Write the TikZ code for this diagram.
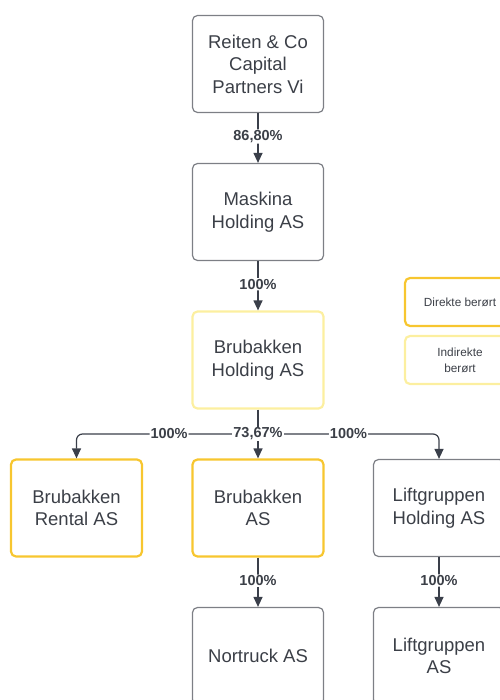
\documentclass[tikz,border=0pt]{standalone}
\usepackage{fontspec}
\setmainfont{Liberation Sans}
\usetikzlibrary{arrows.meta}
\definecolor{txt}{HTML}{3B3F47}
\definecolor{grayb}{HTML}{7D7F85}
\definecolor{gold}{HTML}{F7C62F}
\definecolor{lightgold}{HTML}{FCEFA0}
\definecolor{arr}{HTML}{3A3F4A}
\tikzset{
  x=1pt,y=-1pt,
  box/.style={draw=grayb,line width=1.2pt,rounded corners=5pt,minimum width=131pt,minimum height=97pt,align=center,font=\fontsize{18.5}{22.5}\selectfont,text=txt,inner sep=0pt},
  direct/.style={box,draw=gold,line width=2.2pt},
  indirect/.style={box,draw=lightgold,line width=2.2pt},
  conn/.style={draw=arr,line width=1.2pt,-{Triangle[length=10pt,width=9pt]},rounded corners=6pt},
  lab/.style={fill=white,inner sep=1pt,font=\bfseries\fontsize{14.5}{16}\selectfont,text=txt},
  leg/.style={rounded corners=5pt,minimum width=110pt,minimum height=48pt,align=center,font=\fontsize{11.8}{16}\selectfont,text=txt,inner sep=0pt}
}
\begin{document}
\begin{tikzpicture}
\useasboundingbox (0,0) rectangle (499,700);
\node[box] (reiten) at (258,64) {Reiten \& Co\\Capital\\Partners Vi};
\node[box] (maskina) at (258,212) {Maskina\\Holding AS};
\node[indirect] (holding) at (258,360) {Brubakken\\Holding AS};
\node[direct] (rental) at (76.5,508) {Brubakken\\Rental AS};
\node[direct] (bas) at (258,508) {Brubakken\\AS};
\node[box] (lholding) at (439,508) {Liftgruppen\\Holding AS};
\node[box] (nortruck) at (258,656) {Nortruck AS};
\node[box] (las) at (439,656) {Liftgruppen\\AS};
\node[leg,draw=gold,line width=2.2pt] (ldir) at (460,302) {Direkte berørt};
\node[leg,draw=lightgold,line width=2.2pt] (lind) at (460,360) {Indirekte\\berørt};
\coordinate (split) at (258,434);
\draw[conn] (reiten) -- node[lab,pos=0.47]{86,80\%} (maskina);
\draw[conn] (maskina) -- node[lab,pos=0.47]{100\%} (holding);
\draw[draw=arr,line width=1.2pt] (holding) -- (split);
\draw[conn] (split) -- (bas);
\draw[conn] (split) -- node[lab,pos=0.49]{100\%} (rental.north |- split) -- (rental);
\draw[conn] (split) -- node[lab,pos=0.5]{100\%} (lholding.north |- split) -- (lholding);
\node[lab] (pct) at (split) {73,67\%};
\draw[conn] (bas) -- node[lab,pos=0.47]{100\%} (nortruck);
\draw[conn] (lholding) -- node[lab,pos=0.47]{100\%} (las);
\end{tikzpicture}
\end{document}
